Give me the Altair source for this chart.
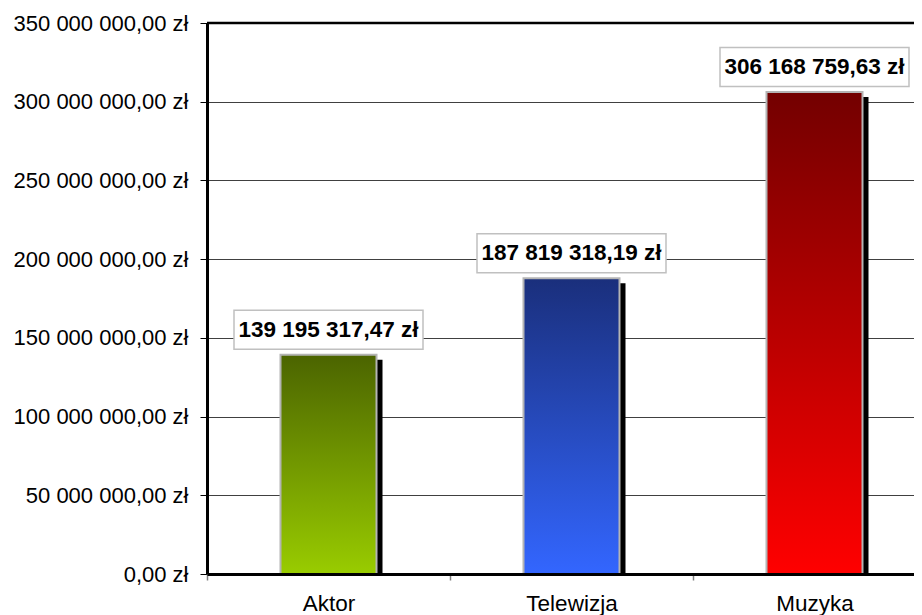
import altair as alt
import pandas as pd

categories = ["Aktor", "Telewizja", "Muzyka"]
values = [139195317.47, 187819318.19, 306168759.63]
top_colors = ["#4b6400", "#1a2f7c", "#730000"]
bottom_colors = ["#99cc00", "#3366ff", "#ff0000"]
y_ticks = [0, 50000000, 100000000, 150000000, 200000000, 250000000, 300000000, 350000000]

df = pd.DataFrame({"cat": categories, "value": values})

FONT = "Liberation Sans, Arial, sans-serif"

x_enc = alt.X(
    "cat:N",
    sort=categories,
    scale=alt.Scale(range=[0, 729], paddingInner=0, paddingOuter=0),
    axis=alt.Axis(
        title=None, labelAngle=0, labelFont=FONT, labelFontSize=22.5, labelColor="black",
        labelPadding=12, tickSize=6, tickColor="#808080", tickWidth=1.5,
        tickBand="extent", domainColor="black", domainWidth=3, grid=False, zindex=2,
    ),
)
y_enc = alt.Y(
    "value:Q",
    scale=alt.Scale(domain=[0, 350000000], nice=False),
    axis=alt.Axis(
        title=None, values=y_ticks, format="$,.2f", labelFont=FONT, labelFontSize=22,
        labelColor="black", labelPadding=12, tickSize=7, tickColor="black", tickWidth=1,
        domainColor="black", domainWidth=3, grid=True, gridColor="#404040", gridWidth=1,
    ),
)

base = alt.Chart(df)

shadow = base.mark_bar(color="black", size=98, xOffset=5, yOffset=5, clip=True).encode(x=x_enc, y=y_enc)

bars = []
for c, tc, bc in zip(categories, top_colors, bottom_colors):
    grad = alt.Gradient(
        gradient="linear",
        stops=[alt.GradientStop(color=tc, offset=0), alt.GradientStop(color=bc, offset=1)],
        x1=0, x2=0, y1=0, y2=1,
    )
    bars.append(
        base.transform_filter(alt.datum.cat == c)
        .mark_bar(color=grad, size=96, stroke="#b4b4b4", strokeWidth=2)
        .encode(x=x_enc, y=y_enc)
    )

bw, bh = 189, 39
r = bh / bw
box_shape = f"M-1,-{r:.4f}L1,-{r:.4f}L1,{r:.4f}L-1,{r:.4f}Z"
boxes = base.mark_point(
    shape=box_shape, size=bw * bw, filled=True, fill="white", stroke="#c0c0c0",
    strokeWidth=1.5, opacity=1, yOffset=-25,
).encode(x=x_enc, y=y_enc)

labels = base.mark_text(
    font=FONT, fontSize=22.5, fontWeight="bold", color="black", baseline="middle",
    align="center", yOffset=-25,
).encode(x=x_enc, y=y_enc, text=alt.Text("value:Q", format="$,.2f"))

top_rule = alt.Chart(pd.DataFrame({"v": [350000000]})).mark_rule(
    color="black", strokeWidth=2.5
).encode(y=alt.Y("v:Q", scale=alt.Scale(domain=[0, 350000000], nice=False)))

chart = (
    alt.layer(shadow, *bars, boxes, labels, top_rule)
    .properties(
        width=707, height=551,
        autosize=alt.AutoSizeParams(type="none"),
        padding={"left": 199, "top": 15, "right": 0, "bottom": 41},
    )
    .configure_view(stroke=None)
    .configure(
        locale=alt.Locale(
            number=alt.NumberLocale(decimal=",", thousands=" ", grouping=[3], currency=["", " zł"])
        )
    )
)

chart.save("out.html", embed_options={"renderer": "svg", "actions": False})
